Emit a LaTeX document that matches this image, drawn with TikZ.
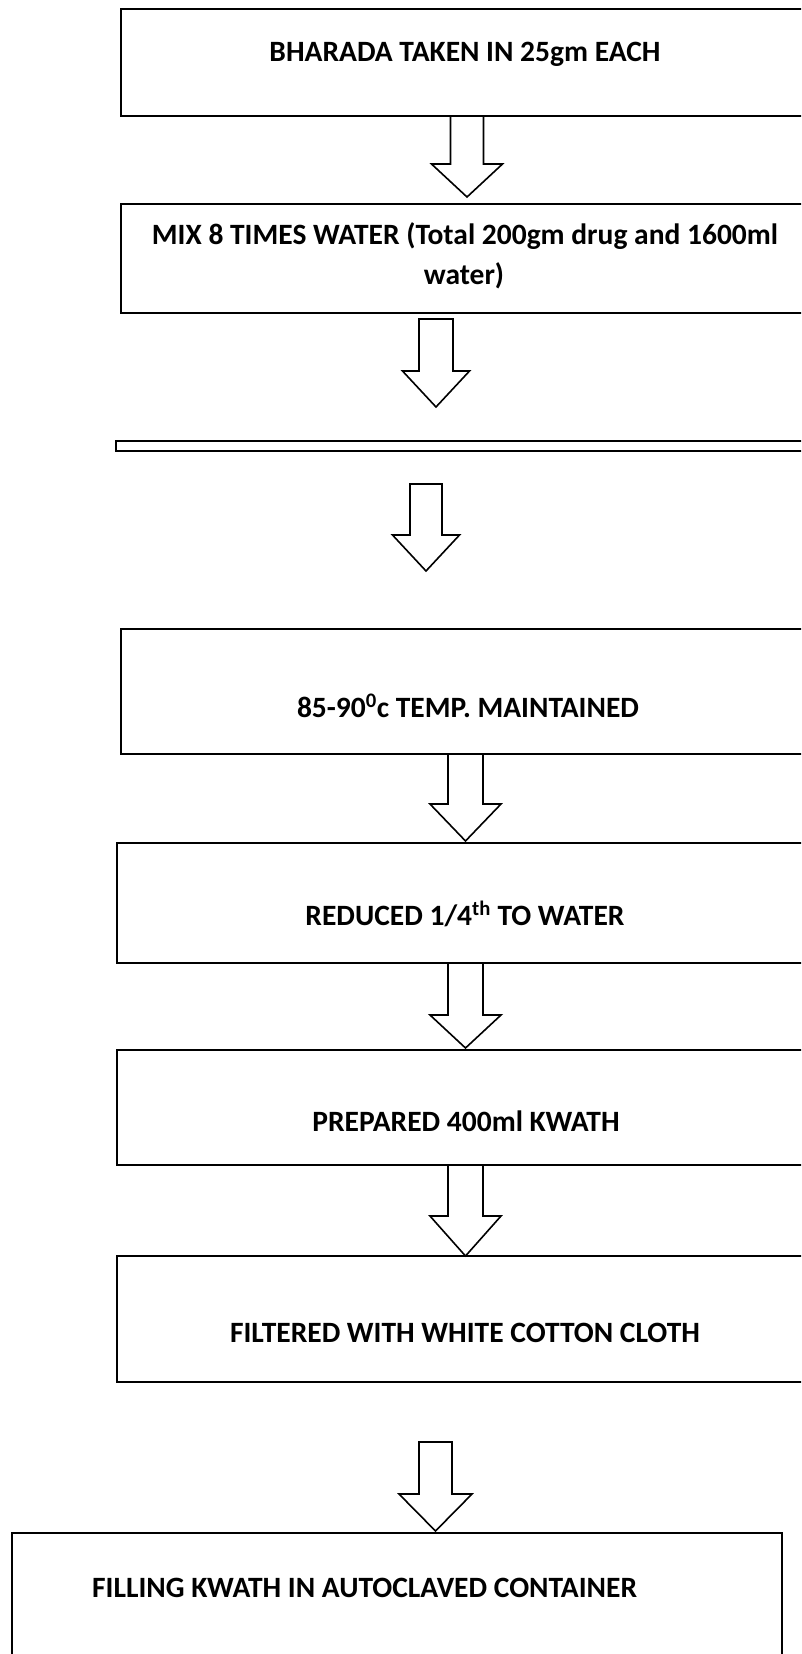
\documentclass[tikz,border=0pt]{standalone}
\usepackage{fontspec}
\setmainfont{Carlito}
\tikzset{
  box/.style={draw=black, line width=2pt, fill=white, rectangle, inner sep=0pt, outer sep=0pt, anchor=north west},
  lbl/.style={font=\bfseries\fontsize{29.5}{40}\selectfont, inner sep=0pt, anchor=base},
  barrow/.style={draw=black, line width=1.6pt, fill=white, line join=miter}
}
\newcommand\blockarrow[6]{%
  \draw[barrow] (#1-#5,#2) -- (#1+#5,#2) -- (#1+#5,#3) -- (#1+#6,#3) -- (#1,#4) -- (#1-#6,#3) -- (#1-#5,#3) -- cycle;}
\begin{document}
\begin{tikzpicture}[x=1pt,y=-1pt]
\useasboundingbox (0,0) rectangle (801,1654);
\clip (0,0) rectangle (801,1654);
% boxes
\node[box, minimum width=700pt, minimum height=106.5pt] (b1) at (121,9.5) {};
\node[box, minimum width=700pt, minimum height=109pt] (b2) at (121,204) {};
\node[box, minimum width=705pt, minimum height=10pt] (b3) at (116,441) {};
\node[box, minimum width=700pt, minimum height=125pt] (b4) at (121,629) {};
\node[box, minimum width=704pt, minimum height=120pt] (b5) at (117,843) {};
\node[box, minimum width=704pt, minimum height=115pt] (b6) at (117,1050) {};
\node[box, minimum width=704pt, minimum height=126pt] (b7) at (117,1256) {};
\node[box, minimum width=770pt, minimum height=140pt] (b8) at (12,1533) {};
% texts
\node[lbl] (t1) at (465,62) {BHARADA TAKEN IN 25gm EACH};
\node[lbl] (t2a) at (465,244) {MIX 8 TIMES WATER (Total 200gm drug and 1600ml};
\node[lbl] (t2b) at (464,284) {water)};
\node[lbl] (t4) at (468,717) {85-90\textsuperscript{0}c TEMP. MAINTAINED};
\node[lbl] (t5) at (465,925) {REDUCED 1/4\textsuperscript{th} TO WATER};
\node[lbl] (t6) at (466,1131) {PREPARED 400ml KWATH};
\node[lbl] (t7) at (465,1342) {FILTERED WITH WHITE COTTON CLOTH};
\node[lbl, anchor=base west] (t8) at (92,1597) {FILLING KWATH IN AUTOCLAVED CONTAINER};
% block arrows
\blockarrow{467}{116}{164}{197}{16.5}{35.5}
\blockarrow{436}{319}{371}{407}{17}{33.5}
\blockarrow{426}{484}{535}{571}{16}{33.5}
\blockarrow{465.5}{754}{804}{841}{17.5}{35.5}
\blockarrow{465.5}{963}{1015}{1048}{17.5}{35.5}
\blockarrow{465.5}{1165}{1216}{1256}{17.5}{35.5}
\blockarrow{435.5}{1442}{1494}{1531}{16.5}{36.5}
\end{tikzpicture}
\end{document}
